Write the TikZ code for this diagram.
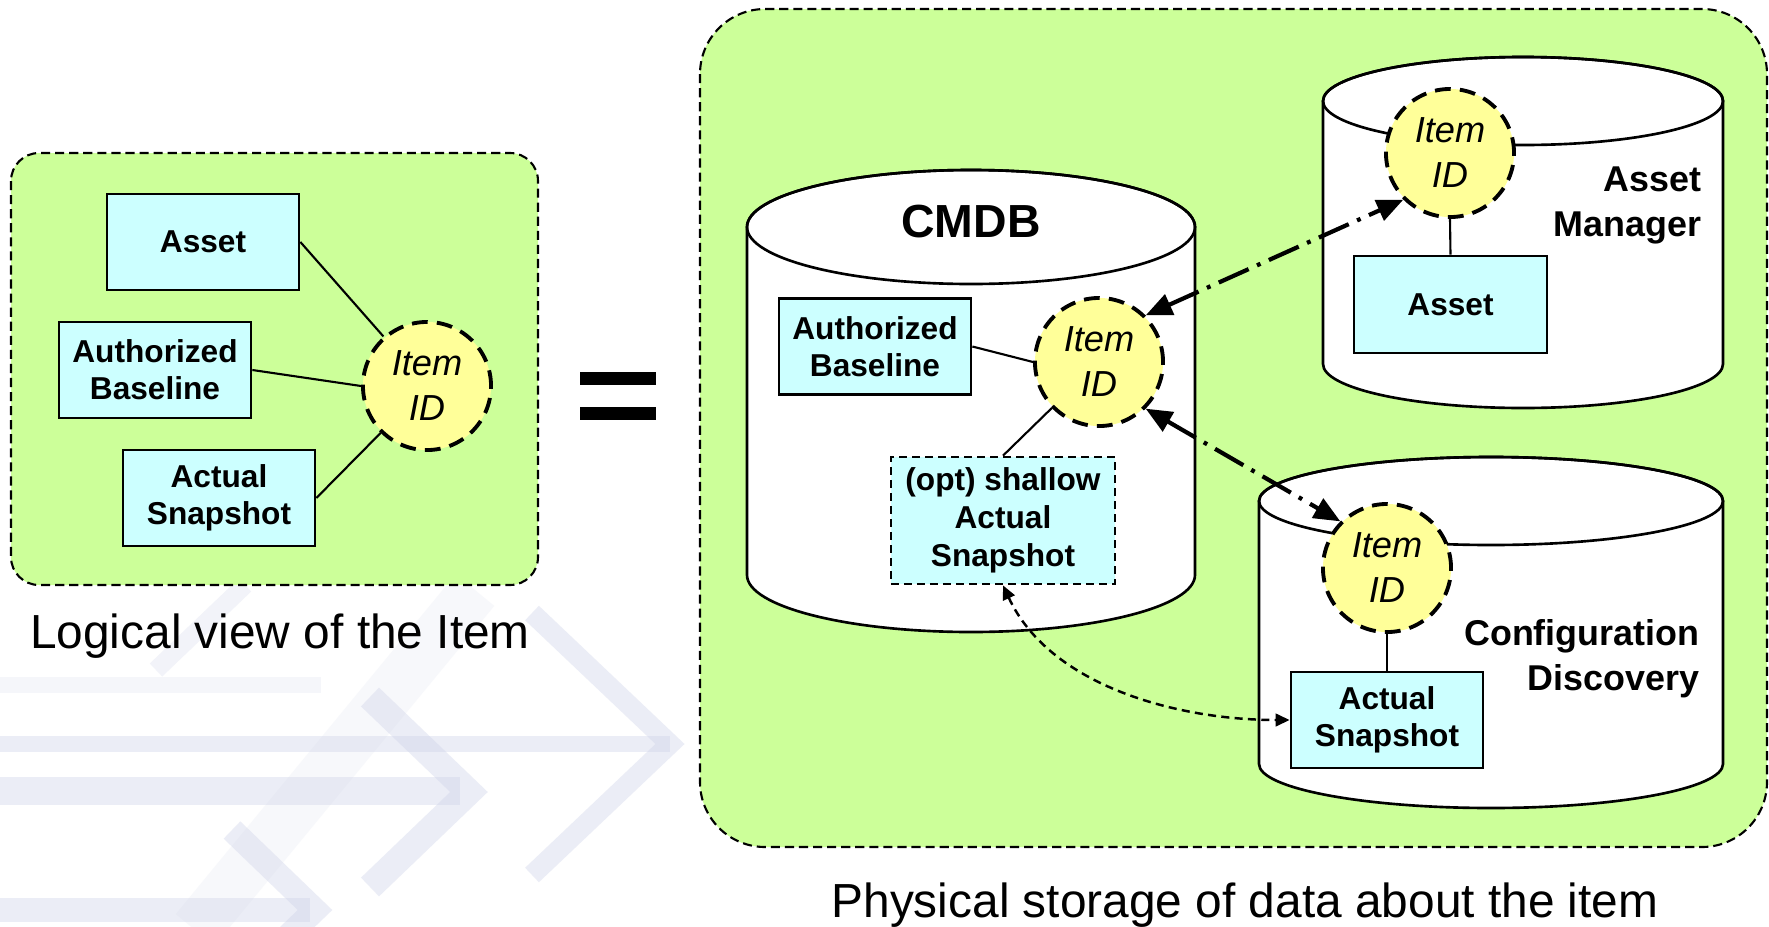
\documentclass[tikz,border=0pt]{standalone}
\usepackage{fontspec}
\setmainfont{Liberation Sans}
\usetikzlibrary{arrows.meta}
\definecolor{lgreen}{HTML}{CCFF99}
\definecolor{lcyan}{HTML}{CCFFFF}
\definecolor{lyellow}{HTML}{FFFF99}
\definecolor{wm}{RGB}{205,210,232}
\begin{document}
\begin{tikzpicture}[x=0.01cm,y=-0.01cm,
  greenbox/.style={draw=black, fill=lgreen, line width=0.6pt, dash pattern=on 2.6pt off 1.4pt},
  box/.style={draw=black, fill=lcyan, line width=0.75pt, minimum width=1.92cm, minimum height=0.96cm, inner sep=0pt, align=center, font=\bfseries\fontsize{9}{10.6}\selectfont},
  itemid/.style={circle, draw=black, fill=lyellow, line width=1.1pt, dash pattern=on 4.5pt off 2.6pt, minimum size=1.28cm, inner sep=0pt, align=center, font=\itshape\fontsize{10.3}{12.8}\selectfont},
  cyl/.style={draw=black, fill=white, line width=0.75pt},
  link/.style={draw=black, line width=0.6pt},
  sync/.style={draw=black, line width=1.2pt, dash pattern=on 9.3pt off 2.6pt on 1.1pt off 2.6pt, <->, >={Triangle[length=7.5pt,width=6.2pt]}},
  copyarrow/.style={draw=black, line width=0.7pt, dash pattern=on 2.3pt off 1.5pt, <->, >={Triangle[length=4pt,width=3.6pt]}},
  dblabel/.style={font=\bfseries\fontsize{10.2}{12.8}\selectfont, align=right, inner sep=0pt, anchor=north east},
  capt/.style={font=\fontsize{13.6}{16}\selectfont, inner sep=0pt, anchor=base},
  wmline/.style={draw=wm, opacity=0.38, line cap=butt, line join=miter}
]
\useasboundingbox (0,0) rectangle (1769,927);
\fill[white] (0,0) rectangle (1769,927);

% watermark
\draw[wmline, opacity=0.15, line width=0.5cm] (195,930) -- (475,590);
\draw[wmline, opacity=0.25, line width=0.18cm] (156,670) -- (245,585);
\draw[wmline, opacity=0.2, line width=0.16cm] (0,685) -- (321,685);
\draw[wmline, line width=0.16cm] (0,744) -- (670,744);
\draw[wmline, line width=0.20cm] (532,613) -- (670,744) -- (532,875);
\draw[wmline, line width=0.28cm] (0,791) -- (460,791);
\draw[wmline, line width=0.26cm] (370,697) -- (469,792) -- (370,887);
\draw[wmline, line width=0.24cm] (0,910) -- (310,910);
\draw[wmline, line width=0.24cm] (232,830) -- (315,910) -- (232,990);

% left logical view
\draw[greenbox, rounded corners=0.28cm] (11,153) rectangle (538,585);
\node[box] (asset1) at (203,242) {Asset};
\node[box] (base1) at (155,370) {Authorized\\Baseline};
\node[box] (snap1) at (219,498) {Actual\\Snapshot};
\node[itemid] (id1) at (427,386) {Item\\ID};
\draw[link] (asset1.east) -- (id1);
\draw[link] (base1.east) -- (id1.west);
\draw[link] (snap1.east) -- (id1);
\node[capt] (cap1) at (280,648) {Logical view of the Item};

% equals sign
\fill (580,372) rectangle (656,385);
\fill (580,407) rectangle (656,420);

% right physical storage
\draw[greenbox, rounded corners=0.65cm] (700,9) rectangle (1767,847);
\node[capt] (cap2) at (1245,917) {Physical storage of data about the item};

% CMDB cylinder
\path[cyl] (747,227) -- (747,575) arc[start angle=180, end angle=0, x radius=224, y radius=57] -- (1195,227) arc[start angle=0, end angle=-180, x radius=224, y radius=57] -- cycle;
\draw[cyl, fill=none] (971,227) ellipse [x radius=224, y radius=57];
\node[font=\bfseries\fontsize{13.2}{15}\selectfont, inner sep=0pt, anchor=base] (cmdb) at (971,237) {CMDB};
\node[box] (base2) at (875,346.5) {Authorized\\Baseline};
\node[itemid] (id2) at (1099,362) {Item\\ID};
\node[box, dash pattern=on 2.3pt off 1.4pt, minimum width=2.24cm, minimum height=1.27cm, font=\bfseries\fontsize{9}{10.8}\selectfont] (opt) at (1003,520.5) {(opt) shallow\\Actual\\Snapshot};
\draw[link] (base2.east) -- (id2.west);
\draw[link] (opt.north) -- (id2);

% Asset Manager cylinder
\path[cyl] (1323,101) -- (1323,364) arc[start angle=180, end angle=0, x radius=200, y radius=44] -- (1723,101) arc[start angle=0, end angle=-180, x radius=200, y radius=44] -- cycle;
\draw[cyl, fill=none] (1523,101) ellipse [x radius=200, y radius=44];
\node[itemid] (id3) at (1450,153) {Item\\ID};
\node[box, minimum width=1.93cm, minimum height=0.97cm] (asset3) at (1450.5,304.5) {Asset};
\node[dblabel] (amlabel) at (1702,166) {Asset\\Manager};
\draw[link] (id3.south) -- (asset3.north);

% Configuration Discovery cylinder
\path[cyl] (1259,501) -- (1259,764) arc[start angle=180, end angle=0, x radius=232, y radius=44] -- (1723,501) arc[start angle=0, end angle=-180, x radius=232, y radius=44] -- cycle;
\draw[cyl, fill=none] (1491,501) ellipse [x radius=232, y radius=44];
\node[itemid] (id4) at (1387,568) {Item\\ID};
\node[box] (snap4) at (1387,720) {Actual\\Snapshot};
\node[dblabel] (cdlabel) at (1700,619) {Configuration\\Discovery};
\draw[link] (id4.south) -- (snap4.north);

% relations
\draw[sync] (id2.45) -- (id3.225);
\draw[sync] (id2.-45) -- (id4.135);
\draw[copyarrow] (opt.south) to[out=-65, in=180, looseness=0.9] (snap4.west);
\end{tikzpicture}
\end{document}
